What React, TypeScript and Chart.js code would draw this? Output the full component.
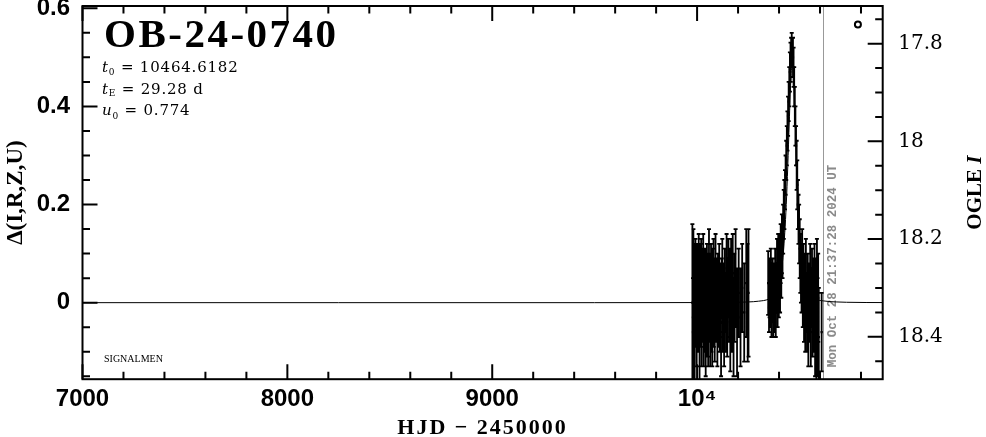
import React, { useEffect, useRef } from 'react';
import { Chart, registerables } from 'chart.js';

Chart.register(...registerables);

// ---------- text ----------
const eventName = 'OB-24-0740';
const paramT0 = '10464.6182';
const paramTE = '29.28 d';
const paramU0 = '0.774';
const dateLabel = 'Mon Oct 28 21:37:28 2024 UT';
const dateHjd = 10612.4;
const xTitle = 'HJD − 2450000';
const yTitle = 'Δ(I,R,Z,U)';
const y2TitleMain = 'OGLE ';
const y2TitleItalic = 'I';
const signature = 'SIGNALMEN';

// ---------- axes ----------
const xMin = 7000;
const xMax = 10906;
const yMin = -0.156;
const yMax = 0.6047;
const y2Min = 17.723;
const y2Max = 18.4867;

const xTickValues = [7000, 8000, 9000, 10000];
const xTickLabels = ['7000', '8000', '9000', '10⁴'];
const yTickValues = [0, 0.2, 0.4, 0.6];
const yTickLabels = ['0', '0.2', '0.4', '0.6'];
const y2TickValues = [17.8, 18, 18.2, 18.4];
const y2TickLabels = ['17.8', '18', '18.2', '18.4'];

// ---------- model curve ----------
const modelHjd = [7000, 9500, 10000, 10100, 10200, 10250, 10300, 10350, 10376.8, 10391.4, 10406, 10413.4, 10420.7, 10428, 10435.3, 10442.6, 10450, 10457.3, 10460.9, 10464.6, 10468.3, 10471.9, 10479.2, 10486.6, 10493.9, 10501.2, 10508.5, 10515.8, 10523.2, 10537.8, 10552.4, 10579, 10629, 10679, 10729, 10829, 10906];
const modelDelta = [0, 0.00002, 0.0002, 0.0003, 0.0008, 0.0015, 0.003, 0.0075, 0.0165, 0.029, 0.052, 0.072, 0.1, 0.143, 0.2, 0.278, 0.369, 0.452, 0.478, 0.487, 0.478, 0.452, 0.369, 0.278, 0.2, 0.143, 0.1, 0.072, 0.052, 0.029, 0.0165, 0.0075, 0.003, 0.0015, 0.0008, 0.0003, 0.0002];

// ---------- season 1 photometry ----------
const s1Hjd = [9977, 9980, 9982, 9984, 9986, 9988, 9990, 9992, 9994, 9996, 9998, 10000, 10002, 10004, 10006, 10008, 10010, 10012, 10014, 10016, 10018, 10020, 10022, 10024, 10026, 10028, 10030, 10032, 10034, 10036, 10038, 10040, 10042, 10044, 10046, 10048, 10050, 10052, 10054, 10056, 10058, 10060, 10062, 10064, 10066, 10068, 10070, 10072, 10074, 10076, 10078, 10080, 10082, 10084, 10086, 10088, 10090, 10093, 10096, 10099, 10102, 10105, 10108, 10111, 10114, 10117, 10120, 10123, 10126, 10129, 10132, 10135, 10138, 10141, 10144, 10147, 10150, 10153, 10156, 10159, 10162, 10166, 10170, 10174, 10178, 10183, 10188, 10195, 10203, 10212, 10220, 10230, 10240, 10247, 10251];
const s1Delta = [0.0, -0.06, 0.06, -0.05, 0.02, -0.08, 0.04, 0.07, -0.02, 0.01, -0.06, 0.05, -0.01, 0.03, -0.04, 0.08, 0.0, -0.07, 0.02, 0.05, -0.03, 0.06, -0.05, 0.01, 0.04, -0.02, 0.07, -0.06, 0.0, 0.03, -0.04, 0.05, -0.08, 0.02, -0.01, 0.06, -0.03, 0.04, -0.06, 0.01, 0.08, -0.02, 0.03, -0.05, 0.0, 0.05, -0.04, 0.02, -0.07, 0.04, -0.01, 0.06, -0.03, 0.01, -0.05, 0.03, 0.07, -0.02, 0.02, -0.06, 0.04, -0.01, 0.05, -0.04, 0.01, -0.07, 0.03, 0.06, -0.03, 0.02, -0.05, 0.04, 0.0, -0.02, 0.07, -0.04, 0.03, 0.05, -0.01, 0.02, -0.06, 0.04, -0.02, 0.06, -0.05, 0.01, 0.05, -0.04, 0.02, -0.03, 0.03, -0.02, 0.04, 0.0, 0.02];
const s1Err = [0.16, 0.11, 0.09, 0.11, 0.1, 0.09, 0.08, 0.06, 0.07, 0.08, 0.07, 0.07, 0.06, 0.08, 0.06, 0.06, 0.07, 0.09, 0.06, 0.07, 0.06, 0.07, 0.08, 0.06, 0.07, 0.06, 0.07, 0.07, 0.06, 0.08, 0.06, 0.06, 0.07, 0.06, 0.07, 0.06, 0.08, 0.06, 0.07, 0.06, 0.07, 0.06, 0.07, 0.08, 0.06, 0.07, 0.06, 0.07, 0.06, 0.07, 0.06, 0.07, 0.06, 0.08, 0.07, 0.06, 0.07, 0.06, 0.07, 0.07, 0.06, 0.08, 0.07, 0.06, 0.07, 0.08, 0.06, 0.07, 0.07, 0.06, 0.08, 0.07, 0.06, 0.08, 0.07, 0.07, 0.06, 0.08, 0.07, 0.09, 0.08, 0.09, 0.08, 0.08, 0.1, 0.09, 0.1, 0.11, 0.09, 0.1, 0.09, 0.1, 0.11, 0.12, 0.13];

// ---------- season 2 photometry ----------
const s2Hjd = [10347, 10351, 10354, 10357, 10360, 10363, 10366, 10369, 10372, 10375, 10378, 10381, 10384, 10387, 10390, 10393, 10396, 10399, 10402, 10405, 10408, 10411, 10414, 10417, 10420, 10423, 10426, 10429, 10432, 10435, 10438, 10441, 10444, 10447, 10450, 10453, 10456, 10459, 10462, 10465, 10468, 10471, 10474, 10477, 10480, 10483, 10486, 10489, 10492, 10495, 10498, 10501, 10504, 10507, 10510, 10513, 10516, 10519, 10522, 10525, 10528, 10531, 10534, 10537, 10540, 10543, 10546, 10549, 10552, 10555, 10558, 10561, 10564, 10567, 10570, 10573, 10576, 10579, 10582, 10585, 10588, 10591, 10594, 10608];
const s2Delta = [0.04, -0.01, 0.03, 0.0, 0.05, -0.02, 0.02, 0.04, -0.01, 0.03, 0.0, 0.05, -0.01, 0.03, 0.06, 0.01, 0.07, 0.03, 0.08, 0.05, 0.1, 0.07, 0.12, 0.1, 0.15, 0.18, 0.2, 0.23, 0.26, 0.29, 0.32, 0.35, 0.38, 0.41, 0.44, 0.47, 0.49, 0.51, 0.52, 0.51, 0.5, 0.48, 0.44, 0.4, 0.36, 0.32, 0.28, 0.24, 0.2, 0.17, 0.14, 0.11, 0.08, 0.06, 0.04, 0.08, 0.01, 0.05, -0.02, 0.03, -0.04, 0.06, 0.0, -0.03, 0.04, -0.05, 0.02, -0.01, 0.05, -0.06, 0.01, 0.03, -0.04, 0.02, -0.02, 0.04, -0.06, 0.0, -0.08, 0.03, -0.05, 0.01, -0.07, -0.06];
const s2Err = [0.065, 0.05, 0.06, 0.05, 0.06, 0.05, 0.06, 0.05, 0.06, 0.05, 0.06, 0.06, 0.06, 0.05, 0.07, 0.06, 0.07, 0.06, 0.06, 0.07, 0.06, 0.06, 0.06, 0.05, 0.05, 0.05, 0.05, 0.04, 0.04, 0.04, 0.04, 0.04, 0.04, 0.04, 0.04, 0.04, 0.04, 0.03, 0.03, 0.03, 0.04, 0.04, 0.04, 0.04, 0.04, 0.04, 0.05, 0.05, 0.05, 0.05, 0.06, 0.06, 0.06, 0.06, 0.06, 0.07, 0.06, 0.07, 0.06, 0.07, 0.06, 0.07, 0.06, 0.07, 0.06, 0.08, 0.06, 0.07, 0.07, 0.07, 0.06, 0.08, 0.07, 0.07, 0.08, 0.08, 0.09, 0.09, 0.09, 0.1, 0.1, 0.09, 0.1, 0.08];

// ---------- legend marker ----------
const markerHjd = [10785];
const markerDelta = [0.567];

const allHjd = [...s1Hjd, ...s2Hjd];
const allDelta = [...s1Delta, ...s2Delta];
const allErr = [...s1Err, ...s2Err];

const MAJOR = 15;
const MINOR = 7.5;

const customPlugin = {
  id: 'lcDecor',
  beforeDatasetsDraw(chart: any) {
    const { ctx, chartArea: a, scales } = chart;
    const x = Math.round(scales.x.getPixelForValue(dateHjd)) + 0.5;
    ctx.save();
    ctx.strokeStyle = '#999999';
    ctx.lineWidth = 1;
    ctx.beginPath();
    ctx.moveTo(x, a.top);
    ctx.lineTo(x, a.bottom);
    ctx.stroke();
    ctx.translate(x + 9, a.bottom - 12);
    ctx.rotate(-Math.PI / 2);
    ctx.font = 'bold 12.5px "Liberation Mono"';
    ctx.fillStyle = '#8a8a8a';
    ctx.textAlign = 'left';
    ctx.textBaseline = 'middle';
    ctx.fillText(dateLabel, 0, 0);
    ctx.restore();
  },
  afterDatasetsDraw(chart: any) {
    const { ctx, chartArea: a, scales } = chart;
    const xs = scales.x;
    const ys = scales.y;
    ctx.save();
    ctx.beginPath();
    ctx.rect(a.left, a.top, a.width, a.height);
    ctx.clip();
    ctx.strokeStyle = '#000';
    ctx.lineWidth = 1.8;
    ctx.beginPath();
    for (let i = 0; i < allHjd.length; i++) {
      const px = xs.getPixelForValue(allHjd[i]);
      const yt = ys.getPixelForValue(allDelta[i] + allErr[i]);
      const yb = ys.getPixelForValue(allDelta[i] - allErr[i]);
      ctx.moveTo(px, yt);
      ctx.lineTo(px, yb);
      ctx.moveTo(px - 2, yt);
      ctx.lineTo(px + 2, yt);
      ctx.moveTo(px - 2, yb);
      ctx.lineTo(px + 2, yb);
    }
    ctx.stroke();
    ctx.restore();
  },
  afterDraw(chart: any) {
    const { ctx, chartArea: a, scales } = chart;
    const xs = scales.x;
    const ys = scales.y;
    const y2s = scales.y2;
    ctx.save();
    ctx.strokeStyle = '#000';
    ctx.lineWidth = 2;
    ctx.strokeRect(a.left, a.top, a.right - a.left, a.bottom - a.top);
    ctx.beginPath();
    for (let v = 7000; v <= xMax; v += 200) {
      const len = v % 1000 === 0 ? MAJOR : MINOR;
      const px = xs.getPixelForValue(v);
      ctx.moveTo(px, a.bottom);
      ctx.lineTo(px, a.bottom - len);
      ctx.moveTo(px, a.top);
      ctx.lineTo(px, a.top + len);
    }
    for (let k = -3; k <= 12; k++) {
      const len = k % 4 === 0 ? MAJOR : MINOR;
      const py = ys.getPixelForValue(k * 0.05);
      ctx.moveTo(a.left, py);
      ctx.lineTo(a.left + len, py);
    }
    for (let k = 355; k <= 369; k++) {
      const len = k % 4 === 0 ? MAJOR : MINOR;
      const py = y2s.getPixelForValue(k / 20);
      ctx.moveTo(a.right, py);
      ctx.lineTo(a.right - len, py);
    }
    ctx.stroke();

    ctx.fillStyle = '#000';
    ctx.textAlign = 'left';
    ctx.textBaseline = 'alphabetic';
    ctx.font = 'bold 41px "Liberation Serif"';
    (ctx as any).letterSpacing = '2.5px';
    ctx.fillText(eventName, 104, 47);
    (ctx as any).letterSpacing = '0px';

    const param = (v: string, sub: string, rest: string, x: number, y: number, subDy: number) => {
      (ctx as any).letterSpacing = '0.8px';
      ctx.font = 'italic 15px "DejaVu Serif"';
      ctx.fillText(v, x, y);
      let cx = x + ctx.measureText(v).width;
      ctx.font = '9px "DejaVu Serif"';
      ctx.fillText(sub, cx, y + subDy);
      cx += ctx.measureText(sub).width;
      ctx.font = '15px "DejaVu Serif"';
      ctx.fillText(rest, cx, y);
      (ctx as any).letterSpacing = '0px';
    };
    param('t', '0', ' = ' + paramT0, 102, 72, 3);
    param('t', 'E', ' = ' + paramTE, 102, 94, 2);
    param('u', '0', ' = ' + paramU0, 102, 115, 4);

    ctx.font = '10px "Liberation Serif"';
    ctx.fillText(signature, 104, 362);

    ctx.font = 'bold 22px "Liberation Serif"';
    (ctx as any).letterSpacing = '2px';
    ctx.textAlign = 'center';
    ctx.fillText(xTitle, (a.left + a.right) / 2, 434);
    (ctx as any).letterSpacing = '0px';

    ctx.save();
    ctx.translate(16, (a.top + a.bottom) / 2);
    ctx.rotate(-Math.PI / 2);
    ctx.font = 'bold 23px "Liberation Serif"';
    ctx.textAlign = 'center';
    ctx.textBaseline = 'middle';
    ctx.fillText(yTitle, 0, 0);
    ctx.restore();

    ctx.save();
    ctx.translate(976, (a.top + a.bottom) / 2);
    ctx.rotate(-Math.PI / 2);
    ctx.textBaseline = 'middle';
    ctx.textAlign = 'left';
    ctx.font = 'bold 21px "Liberation Serif"';
    const w1 = ctx.measureText(y2TitleMain).width;
    ctx.font = 'bold italic 21px "Liberation Serif"';
    const w2 = ctx.measureText(y2TitleItalic).width;
    const start = -(w1 + w2) / 2;
    ctx.font = 'bold 21px "Liberation Serif"';
    ctx.fillText(y2TitleMain, start, 0);
    ctx.font = 'bold italic 21px "Liberation Serif"';
    ctx.fillText(y2TitleItalic, start + w1, 0);
    ctx.restore();

    ctx.restore();
  },
};

export default function App() {
  const ref = useRef<HTMLCanvasElement | null>(null);
  useEffect(() => {
    if (!ref.current) return;
    const chart = new Chart(ref.current, {
      type: 'scatter',
      data: {
        datasets: [
          {
            type: 'line',
            data: modelHjd.map((x, i) => ({ x, y: modelDelta[i] })),
            borderColor: '#000',
            borderWidth: 1,
            pointRadius: 0,
            fill: false,
            tension: 0,
            cubicInterpolationMode: 'monotone',
          } as any,
          {
            data: allHjd.map((x, i) => ({ x, y: allDelta[i] })),
            pointStyle: 'rect',
            pointRadius: 1.6,
            backgroundColor: '#000',
            borderColor: '#000',
            borderWidth: 0,
          },
          {
            data: markerHjd.map((x, i) => ({ x, y: markerDelta[i] })),
            pointStyle: 'circle',
            pointRadius: 3,
            backgroundColor: '#fff',
            borderColor: '#000',
            borderWidth: 2,
          },
        ],
      },
      options: {
        responsive: false,
        animation: false,
        devicePixelRatio: 1,
        events: [],
        layout: { padding: { top: 5, left: 0, right: 0, bottom: 0 } },
        plugins: { legend: { display: false }, tooltip: { enabled: false } },
        scales: {
          x: {
            type: 'linear',
            position: 'bottom',
            min: xMin,
            max: xMax,
            grid: { display: false, drawTicks: false },
            border: { display: false },
            ticks: {
              color: '#000',
              font: { family: 'Liberation Sans', size: 24, weight: 'bold' },
              padding: 6,
              maxRotation: 0,
              autoSkip: false,
              callback: (v: any) => {
                const i = xTickValues.indexOf(Number(v));
                return i >= 0 ? xTickLabels[i] : '';
              },
            },
            afterBuildTicks: (s: any) => {
              s.ticks = xTickValues.map((v) => ({ value: v }));
            },
            afterFit: (s: any) => {
              s.height = 437 - 379.2;
            },
          },
          y: {
            type: 'linear',
            position: 'left',
            min: yMin,
            max: yMax,
            grid: { display: false, drawTicks: false },
            border: { display: false },
            ticks: {
              color: '#000',
              font: { family: 'Liberation Sans', size: 24, weight: 'bold' },
              padding: 12.5,
              autoSkip: false,
              callback: (v: any) => {
                const i = yTickValues.findIndex((t) => Math.abs(t - Number(v)) < 1e-9);
                return i >= 0 ? yTickLabels[i] : '';
              },
            },
            afterBuildTicks: (s: any) => {
              s.ticks = yTickValues.map((v) => ({ value: v }));
            },
            afterFit: (s: any) => {
              s.width = 82.5;
              s.paddingTop = 0;
              s.paddingBottom = 0;
            },
          },
          y2: {
            type: 'linear',
            position: 'right',
            reverse: true,
            min: y2Min,
            max: y2Max,
            grid: { display: false, drawTicks: false },
            border: { display: false },
            ticks: {
              color: '#000',
              font: { family: 'DejaVu Serif', size: 20 },
              padding: 15.6,
              autoSkip: false,
              callback: (v: any) => {
                const i = y2TickValues.findIndex((t) => Math.abs(t - Number(v)) < 1e-9);
                return i >= 0 ? y2TickLabels[i] : '';
              },
            },
            afterBuildTicks: (s: any) => {
              s.ticks = y2TickValues.map((v) => ({ value: v }));
            },
            afterFit: (s: any) => {
              s.width = 986 - 882.7;
              s.paddingTop = 0;
              s.paddingBottom = 0;
            },
          },
        },
      },
      plugins: [customPlugin],
    } as any);
    return () => chart.destroy();
  }, []);
  return (
    <div style={{ position: 'absolute', left: 0, top: 0, width: 986, height: 437, background: '#fff' }}>
      <canvas ref={ref} width={986} height={437} style={{ display: 'block' }} />
    </div>
  );
}
